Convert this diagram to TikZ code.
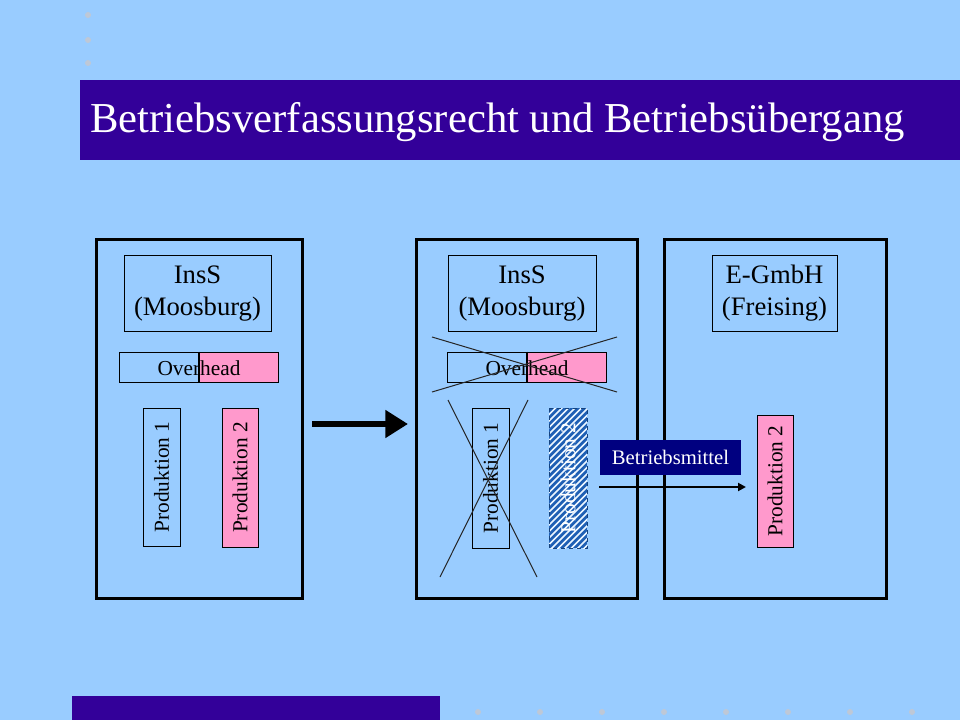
\documentclass[tikz,border=0pt]{standalone}
\usepackage{fontspec}
\setmainfont{Liberation Serif}
\usetikzlibrary{arrows.meta}
\definecolor{bgblue}{RGB}{153,204,255}
\definecolor{barviolet}{RGB}{51,0,153}
\definecolor{pinkfill}{RGB}{255,153,204}
\definecolor{navybox}{RGB}{0,0,128}
\definecolor{hatchblue}{RGB}{30,95,180}
\definecolor{dotgray}{RGB}{190,200,215}
\tikzset{
  panel/.style={draw=black, line width=2.25pt, inner sep=0pt},
  namebox/.style={draw=black, line width=0.75pt, align=center, font=\fontsize{20}{24}\selectfont, inner sep=0pt},
  halfbox/.style={draw=black, line width=0.75pt, inner sep=0pt, minimum height=22.5pt},
  prodbox/.style={draw=black, line width=0.75pt, inner sep=0pt, rotate=90, font=\fontsize{16}{18}\selectfont},
  smalltext/.style={font=\fontsize{16}{18}\selectfont, inner sep=0pt},
  crossline/.style={draw=black!85, line width=0.75pt},
  deco/.style={fill=dotgray, draw=none}
}
\begin{document}
\begin{tikzpicture}[x=0.75pt,y=-0.75pt]
\useasboundingbox (0,0) rectangle (960,720);
\fill[bgblue] (0,0) rectangle (960,720);
% decorative dots
\foreach \yy in {15,40,63} \fill[deco] (88,\yy) circle (3);
\foreach \xx in {478,540,602,664,726,788,850,912} \fill[deco] (\xx,712) circle (3);
% title bar
\fill[barviolet] (80,80) rectangle (960,160);
\fill[barviolet] (72,696) rectangle (440,720);
\node[anchor=base west, inner sep=0pt, text=white, font=\fontsize{32}{36}\selectfont] (title) at (90,133) {Betriebsverfassungsrecht und Betriebsübergang};

% panels
\node[panel, minimum width=154.5pt, minimum height=268.5pt] (panA) at (199,419) {};
\node[panel, minimum width=165.75pt, minimum height=268.5pt] (panB) at (526.5,419) {};
\node[panel, minimum width=166.5pt, minimum height=268.5pt] (panC) at (775,419) {};

% name boxes
\node[namebox, minimum width=110.25pt, minimum height=56.25pt] (insA) at (197.5,293.5) {InsS\\(Moosburg)};
\node[namebox, minimum width=111pt, minimum height=56.25pt] (insB) at (522,293.5) {InsS\\(Moosburg)};
\node[namebox, minimum width=93.75pt, minimum height=56.25pt] (egmbh) at (774.5,293.5) {E-GmbH\\(Freising)};

% overhead A
\node[halfbox, minimum width=60pt] (ovAl) at (159,367) {};
\node[halfbox, fill=pinkfill, minimum width=59.25pt] (ovAr) at (238.5,367) {};
\draw[line width=1.5pt] (ovAr.north west) -- (ovAr.south west);
\node[smalltext] (ovA) at (199,368) {Overhead};
% overhead B
\node[halfbox, minimum width=60pt] (ovBl) at (487,367) {};
\node[halfbox, fill=pinkfill, minimum width=59.25pt] (ovBr) at (566.5,367) {};
\draw[line width=1.5pt] (ovBr.north west) -- (ovBr.south west);
\node[smalltext] (ovB) at (527,368) {Overhead};

% production boxes A
\node[prodbox, minimum width=103.5pt, minimum height=27.75pt] (p1A) at (161.5,477) {Produktion 1};
\node[prodbox, fill=pinkfill, minimum width=104.25pt, minimum height=27pt] (p2A) at (240,477.5) {Produktion 2};
% production boxes B
\node[prodbox, minimum width=105pt, minimum height=27.75pt] (p1B) at (490.5,478) {Produktion 1};
% hatched Produktion 2
\begin{scope}
  \clip (549,408) rectangle (587,548);
  \fill[hatchblue] (549,408) rectangle (587,548);
  \foreach \k in {-10,...,32} {
    \draw[white!80!bgblue, line width=1.2pt] (540,560-6.5*\k) -- ++(60,-60);
  }
\end{scope}
\node[prodbox, draw=hatchblue!70!black, dashed, text=white, minimum width=105pt, minimum height=28.5pt] (p2B) at (568,478) {Produktion 2};
% production box C
\node[prodbox, fill=pinkfill, minimum width=99pt, minimum height=27pt] (p2C) at (775,481) {Produktion 2};

% crosses
\coordinate (xa1) at (432,337);
\coordinate (xa2) at (617,392);
\coordinate (xa3) at (432,392);
\coordinate (xa4) at (617,337);
\draw[crossline] (xa1) -- (xa2);
\draw[crossline] (xa3) -- (xa4);
\coordinate (xb1) at (448,400);
\coordinate (xb2) at (537,577);
\coordinate (xb3) at (528,400);
\coordinate (xb4) at (440,577);
\draw[crossline] (xb1) -- (xb2);
\draw[crossline] (xb3) -- (xb4);

% big arrow
\coordinate (bigS) at (312,424);
\coordinate (bigE) at (408,424);
\draw[line width=4.5pt, -{Triangle[length=17pt,width=20pt]}] (bigS) -- (bigE);

% Betriebsmittel
\node[fill=navybox, text=white, smalltext, font=\fontsize{15.5}{18}\selectfont, minimum width=105.75pt, minimum height=26.25pt] (bm) at (670.5,457.5) {Betriebsmittel};
\coordinate (bmS) at (599,487);
\coordinate (bmE) at (746,487);
\draw[line width=1.6pt, -{Triangle[length=6pt,width=6pt]}] (bmS) -- (bmE);
\end{tikzpicture}
\end{document}
